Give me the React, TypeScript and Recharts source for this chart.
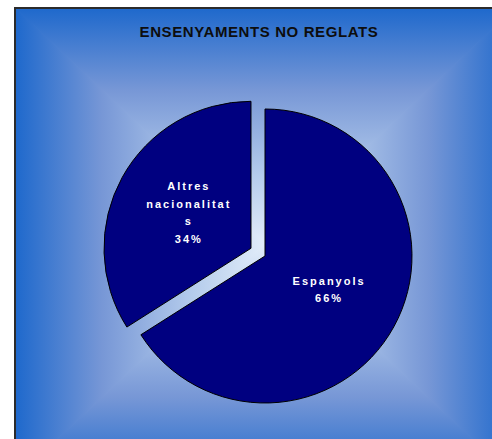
import React from 'react';
import { PieChart, Pie, Cell } from 'recharts';

const categories = ['Espanyols', 'Altres nacionalitats'];
const values = [66, 34];
const labelLines = [['Espanyols'], ['Altres', 'nacionalitat', 's']];
const title = 'ENSENYAMENTS NO REGLATS';

const data = categories.map((name, i) => ({ name, value: values[i] }));

const W = 492;
const H = 439;
const BOX = { left: 14, top: 7, right: 516, bottom: 480 };
const GCX = (BOX.left + BOX.right) / 2;
const GCY = (BOX.top + BOX.bottom) / 2;
const PIE_CX = 265;
const PIE_CY = 256;
const R = 147;
const EXPLODE = 16;
const FILL = '#000080';
const RAD = Math.PI / 180;

const total = values.reduce((a, b) => a + b, 0);
const explodedIndex = 1;
const before = values.slice(0, explodedIndex).reduce((a, b) => a + b, 0);
const midFrac = (before + values[explodedIndex] / 2) / total;
const midDeg = 90 - 360 * midFrac;
const exDx = EXPLODE * Math.cos(midDeg * RAD);
const exDy = -EXPLODE * Math.sin(midDeg * RAD);

const stops = [
  { o: 0, c: '#1d68cc' },
  { o: 0.35, c: '#7797d6' },
  { o: 0.72, c: '#b6cdec' },
  { o: 1, c: '#e2edf9' },
];

const makeLabel = (visible: number) => (props: any) => {
  const { cx, cy, midAngle, outerRadius, percent, index } = props;
  if (index !== visible) return <g key={`l-${index}`} />;
  const r = outerRadius * 0.49;
  const x = cx + r * Math.cos(-midAngle * RAD);
  const y = cy + r * Math.sin(-midAngle * RAD);
  const lines = [...labelLines[index], `${Math.round(percent * 100)}%`];
  const lh = 17.5;
  const y0 = y - ((lines.length - 1) * lh) / 2 - 1;
  return (
    <g key={`l-${index}`}>
      {lines.map((t, i) => (
        <text
          key={i}
          x={x + 1}
          y={y0 + i * lh}
          textAnchor="middle"
          dominantBaseline="central"
          fill="#ffffff"
          fontFamily="'Liberation Sans', Arial, sans-serif"
          fontWeight="bold"
          fontSize={11}
          style={{ letterSpacing: '2px' }}
        >
          {t}
        </text>
      ))}
    </g>
  );
};

const tri = (id: string, pts: string) => (
  <polygon points={pts} fill={`url(#${id})`} stroke={`url(#${id})`} strokeWidth={1.2} strokeLinejoin="round" />
);

const Background = () => (
  <svg width={W} height={H} style={{ position: 'absolute', left: 0, top: 0 }}>
    <defs>
      <linearGradient id="gT" gradientUnits="userSpaceOnUse" x1={0} y1={BOX.top} x2={0} y2={GCY}>
        {stops.map((s) => <stop key={s.o} offset={s.o} stopColor={s.c} />)}
      </linearGradient>
      <linearGradient id="gB" gradientUnits="userSpaceOnUse" x1={0} y1={BOX.bottom} x2={0} y2={GCY}>
        {stops.map((s) => <stop key={s.o} offset={s.o} stopColor={s.c} />)}
      </linearGradient>
      <linearGradient id="gL" gradientUnits="userSpaceOnUse" x1={BOX.left} y1={0} x2={GCX} y2={0}>
        {stops.map((s) => <stop key={s.o} offset={s.o} stopColor={s.c} />)}
      </linearGradient>
      <linearGradient id="gR" gradientUnits="userSpaceOnUse" x1={BOX.right} y1={0} x2={GCX} y2={0}>
        {stops.map((s) => <stop key={s.o} offset={s.o} stopColor={s.c} />)}
      </linearGradient>
    </defs>
    <rect x={0} y={0} width={W} height={H} fill="#ffffff" />
    {tri('gT', `${BOX.left},${BOX.top} ${BOX.right},${BOX.top} ${GCX},${GCY}`)}
    {tri('gB', `${BOX.left},${BOX.bottom} ${BOX.right},${BOX.bottom} ${GCX},${GCY}`)}
    {tri('gL', `${BOX.left},${BOX.top} ${BOX.left},${BOX.bottom} ${GCX},${GCY}`)}
    {tri('gR', `${BOX.right},${BOX.top} ${BOX.right},${BOX.bottom} ${GCX},${GCY}`)}
    <rect x={0} y={0} width={BOX.left} height={H} fill="#ffffff" />
    <rect x={0} y={0} width={W} height={BOX.top} fill="#ffffff" />
    <rect
      x={BOX.left + 1}
      y={BOX.top + 1}
      width={BOX.right - BOX.left}
      height={BOX.bottom - BOX.top}
      fill="none"
      stroke="#2b2b2b"
      strokeWidth={2}
    />
    <text
      x={259}
      y={37}
      textAnchor="middle"
      fill="#0d0d0d"
      fontFamily="'Liberation Sans', Arial, sans-serif"
      fontWeight="bold"
      fontSize={15}
      style={{ letterSpacing: '0.6px' }}
    >
      {title}
    </text>
  </svg>
);

export default function App() {
  return (
    <div style={{ position: 'absolute', left: 0, top: 0, width: W, height: H, overflow: 'hidden' }}>
      <Background />
      <div style={{ position: 'absolute', left: 0, top: 0 }}>
        <PieChart width={W} height={H} margin={{ top: 0, right: 0, bottom: 0, left: 0 }}>
          <Pie
            data={data}
            dataKey="value"
            nameKey="name"
            cx={PIE_CX}
            cy={PIE_CY}
            outerRadius={R}
            startAngle={90}
            endAngle={-270}
            isAnimationActive={false}
            labelLine={false}
            label={makeLabel(0)}
          >
            {data.map((d, i) => (
              <Cell
                key={d.name}
                fill={i === 0 ? FILL : 'none'}
                stroke={i === 0 ? '#000000' : 'none'}
                strokeWidth={1}
              />
            ))}
          </Pie>
          <Pie
            data={data}
            dataKey="value"
            nameKey="name"
            cx={PIE_CX + exDx}
            cy={PIE_CY + exDy}
            outerRadius={R}
            startAngle={90}
            endAngle={-270}
            isAnimationActive={false}
            labelLine={false}
            label={makeLabel(1)}
          >
            {data.map((d, i) => (
              <Cell
                key={d.name}
                fill={i === 1 ? FILL : 'none'}
                stroke={i === 1 ? '#000000' : 'none'}
                strokeWidth={1}
              />
            ))}
          </Pie>
        </PieChart>
      </div>
    </div>
  );
}
